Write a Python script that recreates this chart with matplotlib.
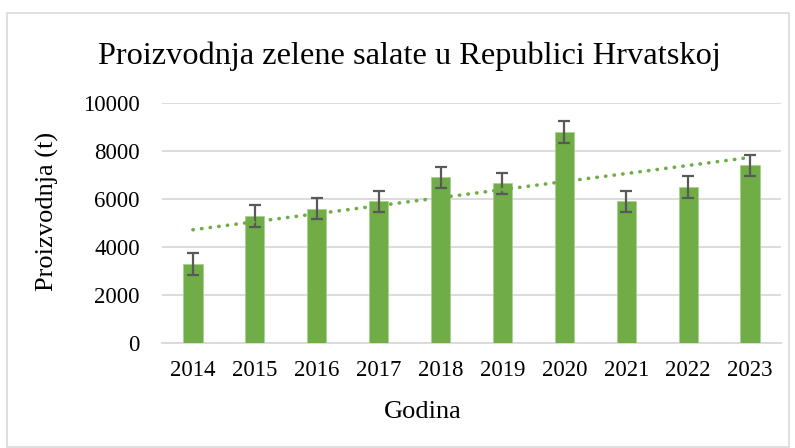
import numpy as np
import matplotlib
matplotlib.use("Agg")
import matplotlib.pyplot as plt
from matplotlib.patches import Rectangle

# podaci
godine = ["2014", "2015", "2016", "2017", "2018", "2019", "2020", "2021", "2022", "2023"]
proizvodnja = [3300, 5300, 5600, 5900, 6900, 6650, 8800, 5900, 6500, 7400]
greska = [450, 450, 450, 450, 450, 450, 450, 450, 450, 450]

plt.rcParams['font.family'] = ['Liberation Serif', 'DejaVu Serif']

W, H = 795, 448
fig = plt.figure(figsize=(W / 100, H / 100), dpi=100)

# okvir grafikona
fig.patches.append(Rectangle((7 / W, 1 - 447 / H), 782 / W, 434 / H, transform=fig.transFigure,
                             fill=False, edgecolor='#D9D9D9', lw=1.2))

ax = fig.add_axes([162 / W, 1 - 343 / H, 619 / W, 240 / H])

x = np.arange(len(godine))
ax.bar(x, proizvodnja, width=0.31, color='#70AD47', edgecolor='#A9D18E', lw=0.6, zorder=3)
ax.errorbar(x, proizvodnja, yerr=greska, fmt='none', ecolor='#595959', elinewidth=1.6,
            capsize=4.5, capthick=1.6, zorder=4)

# linearni trend
k, b = np.polyfit(x, proizvodnja, 1)
ax.plot(x, k * x + b, color='#70AD47', lw=2.6, ls=(0, (0.1, 2.3)), dash_capstyle='round', zorder=5)

ax.set_xlim(-0.5, len(godine) - 0.5)
ax.set_ylim(0, 10000)
ax.set_yticks(range(0, 10001, 2000))
ax.set_xticks(x)
ax.set_xticklabels(godine)
ax.tick_params(axis='both', length=0, labelsize=16.5)
ax.tick_params(axis='x', pad=12)
ax.tick_params(axis='y', pad=16)
ax.grid(axis='y', color='#D9D9D9', lw=1.3, zorder=0)
for s in ['top', 'right', 'left']:
    ax.spines[s].set_visible(False)
ax.spines['bottom'].set_color('#D9D9D9')
ax.spines['bottom'].set_linewidth(1.3)

fig.text(409 / W, 1 - 56 / H, 'Proizvodnja zelene salate u Republici Hrvatskoj',
         ha='center', va='center', fontsize=23.3)
fig.text(423 / W, 1 - 412 / H, 'Godina', ha='center', va='center', fontsize=19)
fig.text(47 / W, 1 - 211 / H, 'Proizvodnja (t)', ha='center', va='center', rotation=90, fontsize=19)

fig.savefig('out.png', dpi=100)
